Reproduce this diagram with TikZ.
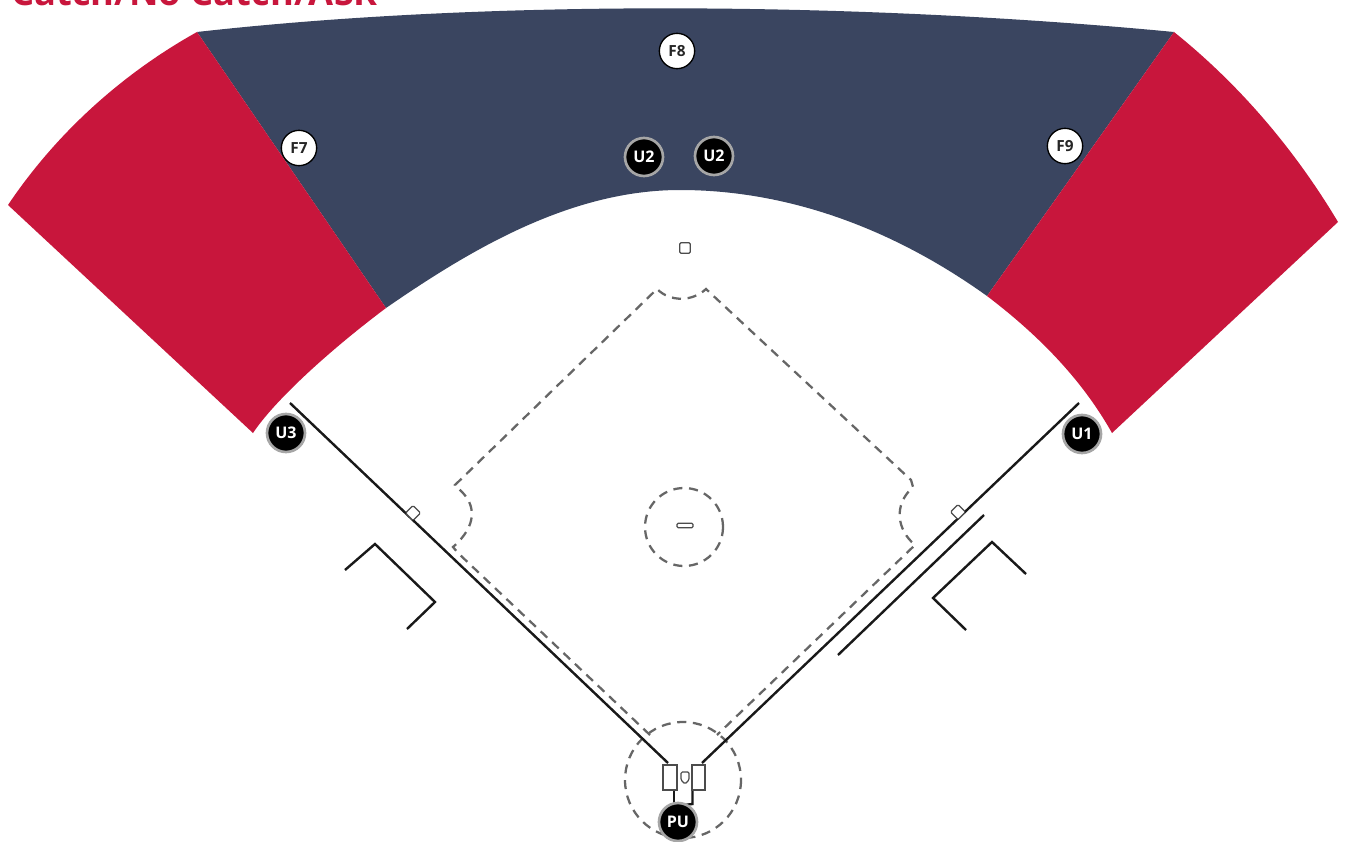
\documentclass[tikz,border=0pt]{standalone}
\usepackage{fontspec}
\setmainfont{Open Sans}
\definecolor{crim}{HTML}{C8163C}
\definecolor{navy}{HTML}{3A4560}
\definecolor{dashgray}{HTML}{666666}
\tikzset{
  px/.style={x=0.75pt,y=-0.75pt},
  dashline/.style={draw=dashgray,line width=1.7pt,dash pattern=on 6.8pt off 5pt},
  solidline/.style={draw=black!90,line width=1.8pt},
  thinbox/.style={draw=black!70,line width=0.9pt,fill=white},
  fielder/.style={circle,fill=white,draw=black,line width=1pt,minimum size=26.5pt,inner sep=0pt,font=\bfseries\fontsize{11.5}{11.5}\selectfont,text=black!85},
  umpire/.style={circle,fill=black,draw=black!35,line width=2pt,minimum size=28.5pt,inner sep=0pt,font=\bfseries\fontsize{12}{12}\selectfont,text=white}
}
\begin{document}
\begin{tikzpicture}[px]
\useasboundingbox (0,0) rectangle (1346,842);
\fill[white] (0,0) rectangle (1346,842);
% clipped title
\begin{scope}
\clip (0,0) rectangle (1346,842);
\node[anchor=base west,inner sep=0pt,text=crim,font=\bfseries\fontsize{27.2}{27.2}\selectfont] (title) at (11,6) {Catch/No Catch/ASR};
\end{scope}
% outfield
\fill[navy] (197,32) .. controls (500,-2) and (870,3) .. (1174,32) -- (987,296)
  .. controls (895,230) and (790,190) .. (680,190)
  .. controls (570,190) and (470,250) .. (386,308) -- cycle;
\fill[crim] (197,32) .. controls (120,75) and (55,135) .. (8,205) -- (253,433)
  .. controls (275,400) and (330,350) .. (386,308) -- cycle;
\fill[crim] (1174,32) .. controls (1240,85) and (1295,150) .. (1338,222) -- (1112,433)
  .. controls (1085,385) and (1045,340) .. (987,296) -- cycle;
% infield
\draw[dashline] (650,735) -- (458,553) -- (453,547) .. controls (478,525) and (475,505) .. (462,492) -- (455,485) -- (657,289)
  .. controls (670,302) and (692,302) .. (706,289) -- (911,480) -- (913,487) .. controls (893,505) and (897,530) .. (915,545) -- (717,735);
\draw[dashline] (684,527) circle[radius=39];
\draw[dashline] (683,780) circle[radius=58];
% foul lines
\coordinate (lf) at (290,403); \coordinate (lh) at (668,763);
\coordinate (rf) at (1079,403); \coordinate (rh) at (702,763);
\draw[solidline] (lf) -- (lh);
\draw[solidline] (rf) -- (rh);
% coach lines
\coordinate (c1) at (984,515); \coordinate (c2) at (838,655);
\draw[solidline] (c1) -- (c2);
\draw[solidline] (1026,574) -- (992,542) -- (933,598) -- (966,630);
\draw[solidline] (345,570) -- (375,544) -- (435,602) -- (407,629);
% bases
\node[thinbox,rounded corners=1pt,minimum size=8pt,inner sep=0pt] (second) at (685,248) {};
\node[thinbox,rounded corners=1pt,minimum size=8pt,inner sep=0pt,rotate=45] (first) at (958,512) {};
\node[thinbox,rounded corners=1pt,minimum size=8pt,inner sep=0pt,rotate=45] (third) at (413,513) {};
\node[thinbox,rounded corners=1pt,minimum width=12pt,minimum height=3.5pt,inner sep=0pt] (rubber) at (685,525.5) {};
% batter boxes
\draw[solidline] (674,789) -- (674,804);
\draw[solidline] (692.5,789) -- (692.5,804) -- (684,805);
\draw[thinbox] (663,765) rectangle (677,790);
\draw[thinbox] (692,765) rectangle (705,790);
\draw[thinbox,rounded corners=1pt] (681,772) -- (689,772) -- (689,780) -- (685,784) -- (681,780) -- cycle;
% players
\node[fielder] (F8) at (677,51) {F8};
\node[fielder] (F7) at (299,148) {F7};
\node[fielder] (F9) at (1065,146) {F9};
\node[umpire] (U2a) at (644,157) {U2};
\node[umpire] (U2b) at (714,156) {U2};
\node[umpire] (U3) at (286,433) {U3};
\node[umpire] (U1) at (1082,434) {U1};
\node[umpire] (PU) at (678,822) {PU};
\end{tikzpicture}
\end{document}
